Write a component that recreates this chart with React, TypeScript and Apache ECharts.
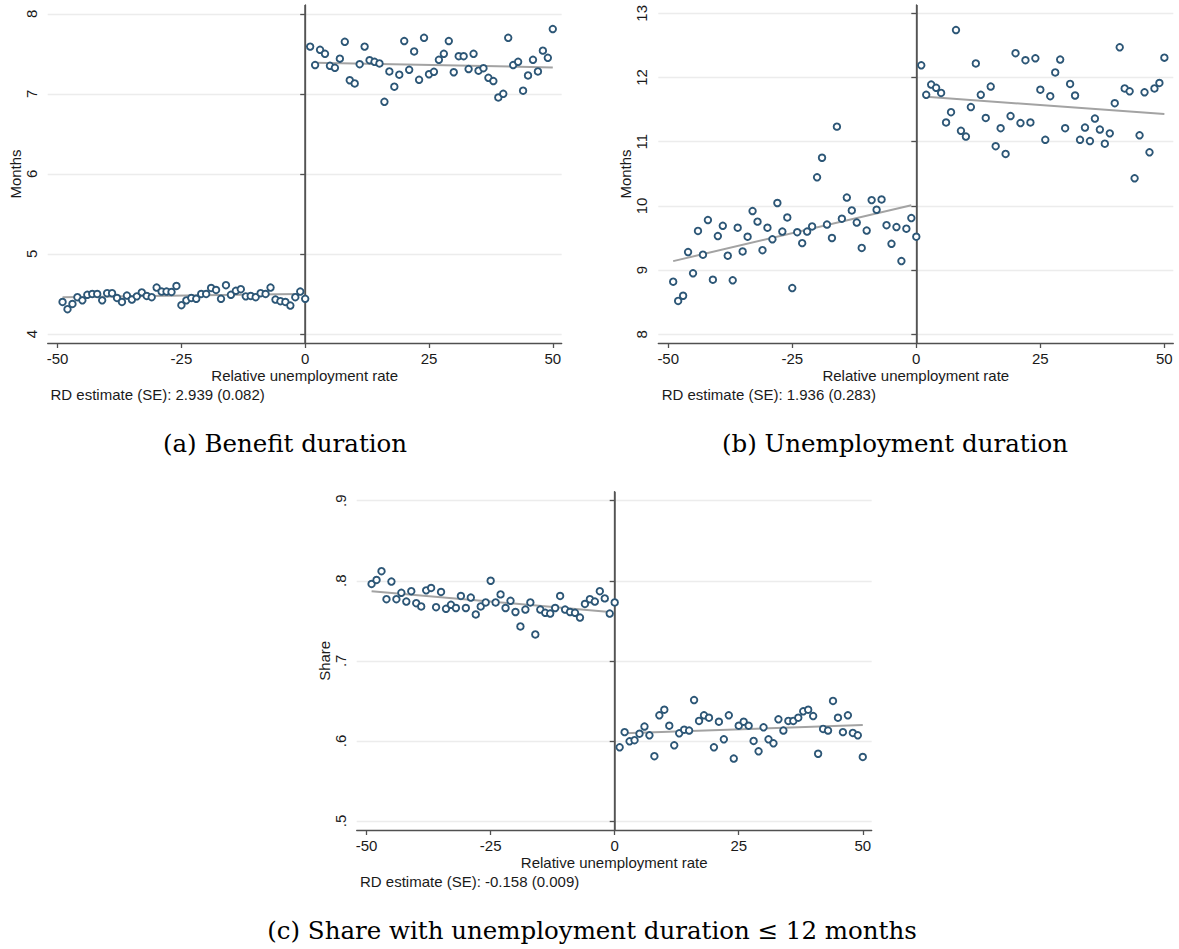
import React, { useEffect, useRef } from 'react';
import * as echarts from 'echarts';

// bin positions (relative unemployment rate)
const leftX = [
  -49, -48, -47, -46, -45, -44, -43, -42, -41, -40,
  -39, -38, -37, -36, -35, -34, -33, -32, -31, -30,
  -29, -28, -27, -26, -25, -24, -23, -22, -21, -20,
  -19, -18, -17, -16, -15, -14, -13, -12, -11, -10,
  -9, -8, -7, -6, -5, -4, -3, -2, -1, 0,
];
const rightX = [
  1, 2, 3, 4, 5, 6, 7, 8, 9, 10,
  11, 12, 13, 14, 15, 16, 17, 18, 19, 20,
  21, 22, 23, 24, 25, 26, 27, 28, 29, 30,
  31, 32, 33, 34, 35, 36, 37, 38, 39, 40,
  41, 42, 43, 44, 45, 46, 47, 48, 49, 50,
];
const xTicks = [-50, -25, 0, 25, 50];

// (a) Benefit duration
const benefitLeft = [
  4.40, 4.31, 4.375, 4.46, 4.42, 4.49, 4.50, 4.50, 4.42, 4.51,
  4.51, 4.45, 4.40, 4.48, 4.43, 4.47, 4.52, 4.475, 4.46, 4.58,
  4.53, 4.53, 4.525, 4.60, 4.36, 4.42, 4.45, 4.44, 4.50, 4.50,
  4.575, 4.55, 4.44, 4.61, 4.49, 4.54, 4.56, 4.47, 4.475, 4.46,
  4.51, 4.50, 4.58, 4.43, 4.41, 4.40, 4.355, 4.46, 4.53, 4.44,
];
const benefitRight = [
  7.59, 7.36, 7.55, 7.50, 7.35, 7.325, 7.44, 7.65, 7.17, 7.13,
  7.37, 7.59, 7.42, 7.40, 7.38, 6.90, 7.28, 7.09, 7.24, 7.66,
  7.30, 7.53, 7.175, 7.70, 7.245, 7.275, 7.425, 7.50, 7.66, 7.27,
  7.47, 7.47, 7.31, 7.50, 7.29, 7.32, 7.20, 7.16, 6.955, 7.00,
  7.70, 7.36, 7.40, 7.04, 7.23, 7.425, 7.28, 7.54, 7.45, 7.81,
];
const benefitFitLeft = [[-49, 4.46], [-1, 4.50]];
const benefitFitRight = [[2, 7.39], [50, 7.33]];
const benefitTicks = [4, 5, 6, 7, 8];

// (b) Unemployment duration
const unempLeft = [
  8.82, 8.52, 8.60, 9.28, 8.95, 9.61, 9.24, 9.78, 8.85, 9.53,
  9.69, 9.225, 8.84, 9.66, 9.29, 9.52, 9.92, 9.755, 9.31, 9.66,
  9.48, 10.045, 9.60, 9.82, 8.72, 9.59, 9.42, 9.60, 9.68, 10.445,
  10.75, 9.71, 9.50, 11.235, 9.80, 10.13, 9.93, 9.74, 9.345, 9.615,
  10.09, 9.94, 10.10, 9.70, 9.41, 9.67, 9.14, 9.645, 9.81, 9.52,
];
const unempRight = [
  12.19, 11.73, 11.89, 11.84, 11.76, 11.30, 11.46, 12.74, 11.17, 11.08,
  11.54, 12.22, 11.73, 11.37, 11.86, 10.93, 11.21, 10.81, 11.40, 12.38,
  11.29, 12.27, 11.30, 12.30, 11.81, 11.03, 11.71, 12.08, 12.28, 11.21,
  11.90, 11.72, 11.03, 11.22, 11.01, 11.36, 11.19, 10.97, 11.13, 11.60,
  12.47, 11.83, 11.785, 10.43, 11.10, 11.77, 10.835, 11.83, 11.915, 12.31,
];
const unempFitLeft = [[-49, 9.14], [-1, 10.01]];
const unempFitRight = [[2, 11.70], [50, 11.43]];
const unempTicks = [8, 9, 10, 11, 12, 13];

// (c) Share with unemployment duration <= 12 months
const shareLeft = [
  0.796, 0.801, 0.812, 0.777, 0.799, 0.777, 0.785, 0.774, 0.787, 0.772,
  0.768, 0.788, 0.791, 0.767, 0.786, 0.765, 0.770, 0.766, 0.781, 0.766,
  0.779, 0.758, 0.768, 0.773, 0.800, 0.773, 0.783, 0.766, 0.775, 0.761,
  0.743, 0.764, 0.773, 0.733, 0.764, 0.760, 0.759, 0.766, 0.781, 0.764,
  0.761, 0.760, 0.754, 0.771, 0.777, 0.774, 0.787, 0.778, 0.759, 0.773,
];
const shareRight = [
  0.592, 0.611, 0.5995, 0.601, 0.609, 0.618, 0.607, 0.581, 0.632, 0.639,
  0.619, 0.5945, 0.6095, 0.614, 0.613, 0.651, 0.625, 0.632, 0.629, 0.592,
  0.624, 0.602, 0.632, 0.578, 0.619, 0.624, 0.619, 0.600, 0.587, 0.617,
  0.602, 0.597, 0.627, 0.613, 0.625, 0.625, 0.629, 0.637, 0.639, 0.631,
  0.584, 0.615, 0.613, 0.650, 0.629, 0.611, 0.632, 0.610, 0.607, 0.580,
];
const shareFitLeft = [[-49, 0.787], [-1, 0.761]];
const shareFitRight = [[2, 0.6095], [50, 0.620]];
const shareTicks = [0.5, 0.6, 0.7, 0.8, 0.9];

const captions = [
  '(a) Benefit duration',
  '(b) Unemployment duration',
  '(c) Share with unemployment duration ≤ 12 months',
];
const rdNotes = [
  'RD estimate (SE): 2.939 (0.082)',
  'RD estimate (SE): 1.936 (0.283)',
  'RD estimate (SE): -0.158 (0.009)',
];

const SANS = 'Liberation Sans, Arial, sans-serif';
const SERIF = 'DejaVu Serif, serif';
const AXIS = '#505050';
const MARKER = '#2c5676';

const pair = (xs: number[], ys: number[]) => xs.map((x, i) => [x, ys[i]]);

const App: React.FC = () => {
  const chartRef = useRef<HTMLDivElement>(null);

  useEffect(() => {
    if (!chartRef.current) return;
    const chart = echarts.init(chartRef.current, null, { renderer: 'svg' });

    const grids = [
      { left: 47.7, top: 5, width: 514, height: 338 },
      { left: 658.3, top: 5, width: 515, height: 338 },
      { left: 356.7, top: 491.7, width: 515, height: 338.3 },
    ];
    const yRanges = [
      { min: 3.8875, max: 8.11, ticks: benefitTicks, name: 'Months' },
      { min: 7.864, max: 13.13, ticks: unempTicks, name: 'Months' },
      { min: 0.4888, max: 0.9112, ticks: shareTicks, name: 'Share' },
    ];
    const panels = [
      [benefitLeft, benefitRight, benefitFitLeft, benefitFitRight],
      [unempLeft, unempRight, unempFitLeft, unempFitRight],
      [shareLeft, shareRight, shareFitLeft, shareFitRight],
    ] as const;

    const fmtY = (v: number) => String(+v.toFixed(2)).replace(/^0\./, '.');

    const xAxis = grids.map((_, i) => ({
      type: 'value',
      gridIndex: i,
      min: -52,
      max: 51.8,
      axisLine: { show: true, lineStyle: { color: AXIS, width: 1.3 } },
      axisTick: { show: true, length: 5, customValues: xTicks, lineStyle: { color: AXIS, width: 1.3 } },
      axisLabel: { customValues: xTicks, fontSize: 15, color: '#1a1a1a', fontFamily: SANS, margin: 8 },
      splitLine: { show: false },
      name: 'Relative unemployment rate',
      nameLocation: 'middle',
      nameGap: 25,
      nameTextStyle: { fontSize: 15, color: '#1a1a1a', fontFamily: SANS },
    }));

    const yAxis = yRanges.map((r, i) => ({
      type: 'value',
      gridIndex: i,
      min: r.min,
      max: r.max,
      axisLine: { show: true, lineStyle: { color: AXIS, width: 1.3 } },
      axisTick: { show: true, length: 5, customValues: r.ticks, lineStyle: { color: AXIS, width: 1.3 } },
      axisLabel: {
        customValues: r.ticks,
        rotate: 90,
        fontSize: 15,
        color: '#1a1a1a',
        fontFamily: SANS,
        margin: 9,
        formatter: fmtY,
      },
      splitLine: { show: true, lineStyle: { color: '#ececec', width: 1.3 } },
      name: r.name,
      nameLocation: 'middle',
      nameGap: 24,
      nameTextStyle: { fontSize: 15, color: '#1a1a1a', fontFamily: SANS },
    }));

    const series: any[] = [];
    panels.forEach(([left, right, fitL, fitR], i) => {
      const scatterStyle = {
        type: 'scatter',
        xAxisIndex: i,
        yAxisIndex: i,
        symbol: 'circle',
        symbolSize: 6.5,
        itemStyle: { color: '#ffffff', borderColor: MARKER, borderWidth: 1.9, opacity: 1 },
        z: 5,
      };
      const fitStyle = {
        type: 'line',
        xAxisIndex: i,
        yAxisIndex: i,
        symbol: 'none',
        lineStyle: { color: '#a3a3a3', width: 2 },
        z: 4,
      };
      series.push({
        ...fitStyle,
        data: fitL,
        markLine: {
          silent: true,
          symbol: ['none', 'none'],
          label: { show: false },
          lineStyle: { color: '#555555', width: 1.5, type: 'solid' },
          data: [{ xAxis: 0 }],
        },
      });
      series.push({ ...fitStyle, data: fitR });
      series.push({ ...scatterStyle, data: pair(leftX, left as number[]) });
      series.push({ ...scatterStyle, data: pair(rightX, right as number[]) });
    });

    const noteStyle = { fontSize: 15, fill: '#1a1a1a', fontFamily: SANS };
    const captionStyle = { fontSize: 24.5, fill: '#000000', fontFamily: SERIF };

    chart.setOption({
      animation: false,
      backgroundColor: '#ffffff',
      grid: grids.map((g) => ({ ...g, containLabel: false })),
      xAxis,
      yAxis,
      series,
      graphic: [
        { type: 'text', left: 50.5, top: 387, style: { text: rdNotes[0], ...noteStyle } },
        { type: 'text', left: 661.7, top: 387, style: { text: rdNotes[1], ...noteStyle } },
        { type: 'text', left: 360, top: 874, style: { text: rdNotes[2], ...noteStyle } },
        { type: 'text', x: 285, y: 443, style: { text: captions[0], ...captionStyle, align: 'center', verticalAlign: 'middle' } },
        { type: 'text', x: 895, y: 443, style: { text: captions[1], ...captionStyle, align: 'center', verticalAlign: 'middle' } },
        { type: 'text', x: 592, y: 930, style: { text: captions[2], ...captionStyle, align: 'center', verticalAlign: 'middle' } },
      ],
    });

    return () => {
      chart.dispose();
    };
  }, []);

  return (
    <div
      ref={chartRef}
      style={{ position: 'absolute', left: 0, top: 0, width: '1179px', height: '949px', background: '#fff' }}
    />
  );
};

export default App;
